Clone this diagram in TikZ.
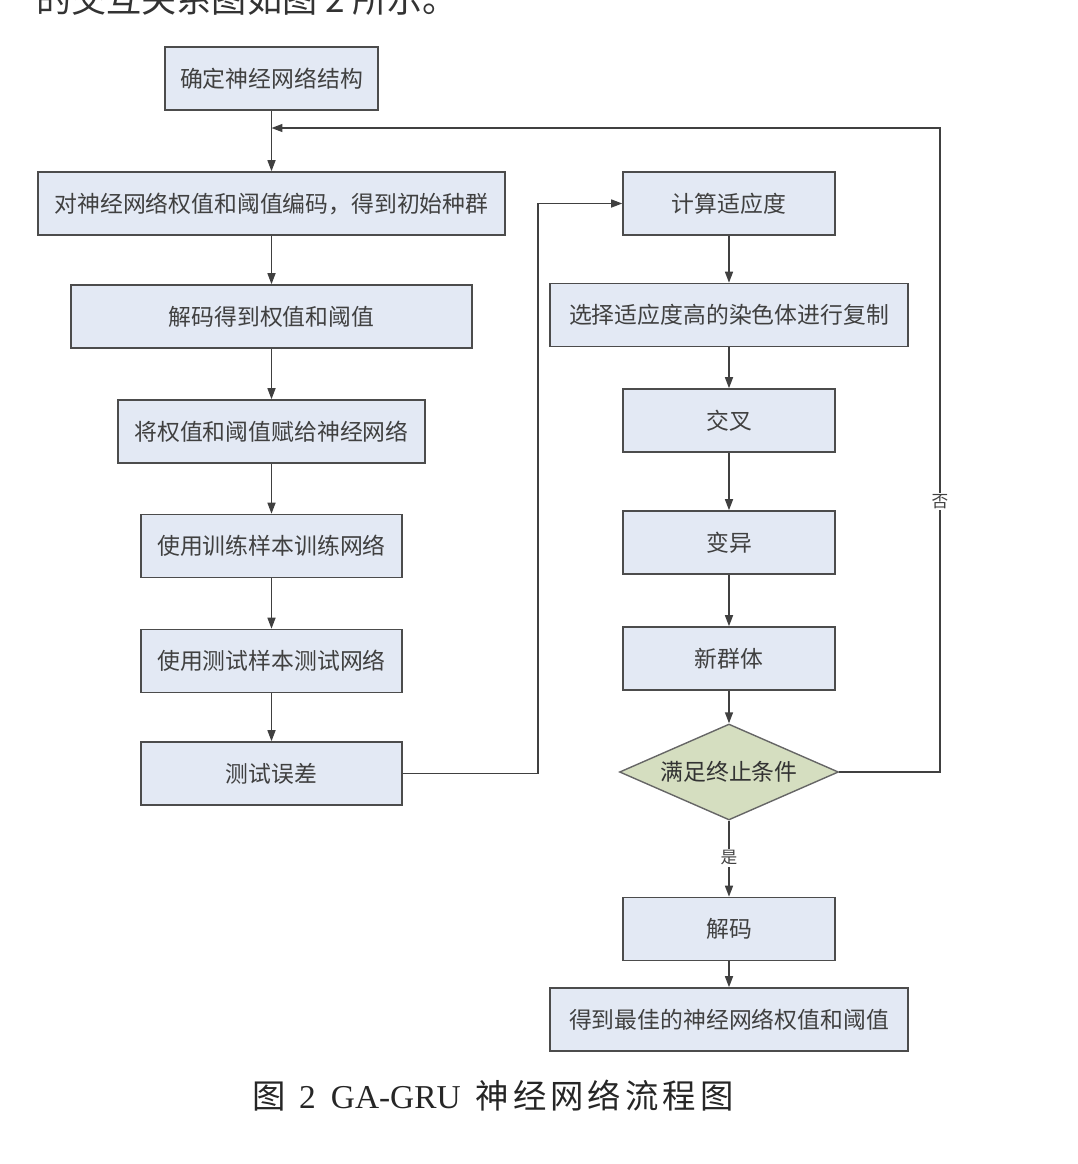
\documentclass[tikz,border=0pt]{standalone}
\usepackage{fontspec}
\setmainfont{Liberation Serif}
\newfontfamily\cjk{Noto Sans CJK SC}
\usetikzlibrary{shapes.geometric,arrows.meta}

\definecolor{boxblue}{HTML}{E3E9F4}
\definecolor{condgreen}{HTML}{D5DEC0}

\tikzstyle{flowbox} = [draw=black!70, fill=boxblue, line width=0.9pt,
    rectangle, minimum height=1.26cm, inner sep=0pt,
    font=\cjk\fontsize{13}{15}\selectfont, text=black!75]
\tikzstyle{decision} = [draw=black!60, fill=condgreen, line width=0.8pt,
    diamond, aspect=2.28, inner sep=0pt, minimum width=4.38cm, minimum height=1.92cm,
    font=\cjk\fontsize{13}{15}\selectfont, text=black!80]
\tikzstyle{flow} = [draw=black!75, line width=0.8pt, -{Triangle[length=2.2mm,width=1.6mm]}]
\tikzstyle{edgelabel} = [fill=white, inner sep=1pt, font=\cjk\fontsize{9.5}{11}\selectfont, text=black!75]

\begin{document}
\begin{tikzpicture}[x=0.02cm,y=-0.02cm]
\useasboundingbox (0,0) rectangle (1078,1164);
\node[anchor=west, font=\cjk\fontsize{20}{24}\selectfont, text=black!80] (intro) at (30,-1) {的交互关系图如图 2 所示。};

\node[flowbox, minimum width=4.26cm] (structure) at (271.5,78.5) {确定神经网络结构};
\node[flowbox, minimum width=9.34cm] (encode) at (271.5,203.5) {对神经网络权值和阈值编码，得到初始种群};
\node[flowbox, minimum width=8.02cm] (decode) at (271.5,316.5) {解码得到权值和阈值};
\node[flowbox, minimum width=6.14cm] (assign) at (271.5,431.5) {将权值和阈值赋给神经网络};
\node[flowbox, minimum width=5.22cm] (train) at (271.5,546) {使用训练样本训练网络};
\node[flowbox, minimum width=5.22cm] (test) at (271.5,661) {使用测试样本测试网络};
\node[flowbox, minimum width=5.22cm] (error) at (271.5,773.5) {测试误差};

\node[flowbox, minimum width=4.24cm] (fitness) at (729,203.5) {计算适应度};
\node[flowbox, minimum width=7.16cm] (select) at (729,315) {选择适应度高的染色体进行复制};
\node[flowbox, minimum width=4.24cm] (cross) at (729,420.5) {交叉};
\node[flowbox, minimum width=4.24cm] (mutate) at (729,542.5) {变异};
\node[flowbox, minimum width=4.24cm] (newpop) at (729,658.5) {新群体};
\node[decision] (stop) at (729,772) {满足终止条件};
\node[flowbox, minimum width=4.24cm] (decodebest) at (729,929) {解码};
\node[flowbox, minimum width=7.16cm] (best) at (729,1019.5) {得到最佳的神经网络权值和阈值};

\coordinate (merge) at (271.5,128);
\coordinate (errturn) at (538,773.5);
\coordinate (loopturn) at (940,772);

% left column
\draw[flow] (structure) -- (encode);
\draw[flow] (encode) -- (decode);
\draw[flow] (decode) -- (assign);
\draw[flow] (assign) -- (train);
\draw[flow] (train) -- (test);
\draw[flow] (test) -- (error);
\draw[flow] (error.east) -- (errturn) |- (fitness.west);

% right column
\draw[flow] (fitness) -- (select);
\draw[flow] (select) -- (cross);
\draw[flow] (cross) -- (mutate);
\draw[flow] (mutate) -- (newpop);
\draw[flow] (newpop) -- (stop);
\draw[flow] (stop) -- node[edgelabel, pos=0.49] {是} (decodebest);
\draw[flow] (decodebest) -- (best);
\draw[flow] (stop.east) -- (loopturn) |- node[edgelabel, pos=0.21] {否} (merge);

\node[font=\fontsize{19}{23}\selectfont, text=black!85] (caption) at (493,1096)
    {{\cjk 图}\hspace{0.4em}2\hspace{0.2em} GA-GRU\hspace{0.2em} {\cjk 神\hspace{0.12em}经\hspace{0.12em}网\hspace{0.12em}络\hspace{0.12em}流\hspace{0.12em}程\hspace{0.12em}图}};
\end{tikzpicture}
\end{document}
